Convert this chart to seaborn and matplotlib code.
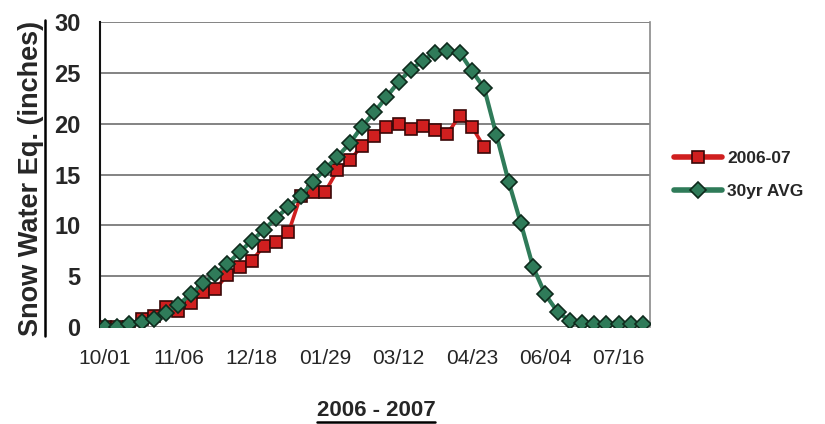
import numpy as np
import pandas as pd
import matplotlib
matplotlib.use("Agg")
import matplotlib.pyplot as plt
from matplotlib.lines import Line2D
import seaborn as sns

# ---- data ----
swe_2006_07 = [0, 0, 0, 0.8, 1.1, 2.0, 1.6, 2.4, 3.4, 3.7,
               5.1, 5.9, 6.5, 8.0, 8.4, 9.3, 12.9, 13.3, 13.3, 15.4,
               16.4, 17.8, 18.8, 19.7, 20.0, 19.5, 19.75, 19.4, 19.0, 20.8,
               19.7, 17.7]
swe_30yr_avg = [0, 0, 0.3, 0.5, 0.8, 1.4, 2.2, 3.2, 4.3, 5.2,
                6.2, 7.35, 8.5, 9.55, 10.75, 11.8, 12.9, 14.25, 15.55, 16.75,
                18.05, 19.7, 21.1, 22.6, 24.1, 25.3, 26.2, 27.0, 27.1, 27.0,
                25.2, 23.5, 18.9, 14.3, 10.2, 5.9, 3.2, 1.5, 0.6, 0.4,
                0.3, 0.3, 0.3, 0.3, 0.3]
tick_labels = ["10/01", "11/06", "12/18", "01/29", "03/12", "04/23", "06/04", "07/16"]
label_every = 6
y_ticks = [0, 5, 10, 15, 20, 25, 30]
series_names = ["2006-07", "30yr AVG"]

df_cur = pd.DataFrame({"period": np.arange(len(swe_2006_07)), "swe": swe_2006_07})
df_avg = pd.DataFrame({"period": np.arange(len(swe_30yr_avg)), "swe": swe_30yr_avg})

sns.set_theme(style="white")
FONT = ["Liberation Sans Narrow", "Liberation Sans", "DejaVu Sans"]
plt.rcParams["font.family"] = FONT

RED = "#d01f1f"
RED_EDGE = "#3a0808"
GREEN = "#2f7b59"
GREEN_EDGE = "#0e2a1c"

fig = plt.figure(figsize=(8.25, 4.24), dpi=100)
ax = fig.add_axes([100 / 825, (424 - 327) / 424, 550 / 825, 305 / 424])

sns.lineplot(data=df_cur, x="period", y="swe", ax=ax, color=RED, linewidth=2.6,
             marker="s", markersize=8.5, markerfacecolor=RED, markeredgecolor=RED_EDGE,
             markeredgewidth=1.2, zorder=3)
sns.lineplot(data=df_avg, x="period", y="swe", ax=ax, color=GREEN, linewidth=3.0,
             marker="D", markersize=8, markerfacecolor=GREEN, markeredgecolor=GREEN_EDGE,
             markeredgewidth=1.2, zorder=4)

ax.set_xlim(-0.41, 44.56)
ax.set_ylim(0, 30)
ax.set_yticks(y_ticks)
ax.set_yticklabels([str(v) for v in y_ticks], fontsize=17, fontweight="bold")
ax.set_xticks(np.arange(len(tick_labels)) * label_every)
ax.set_xticklabels(tick_labels, fontsize=15)
ax.tick_params(axis="x", length=0, pad=16)
ax.tick_params(axis="y", length=0, pad=14)
ax.yaxis.grid(True, color="#7a7a7a", linewidth=1.3)
ax.set_axisbelow(True)
ax.set_xlabel("")
ax.set_ylabel("")
for s in ["top", "bottom"]:
    ax.spines[s].set_visible(False)
ax.spines["left"].set_color("#111111")
ax.spines["left"].set_linewidth(1.5)
ax.spines["right"].set_color("#8a8a8a")
ax.spines["right"].set_linewidth(1.2)

# legend
handles = [
    Line2D([0], [0], color=RED, linewidth=4, marker="s", markersize=8.5,
           markerfacecolor=RED, markeredgecolor=RED_EDGE, markeredgewidth=1.2),
    Line2D([0], [0], color=GREEN, linewidth=4, marker="D", markersize=8,
           markerfacecolor=GREEN, markeredgecolor=GREEN_EDGE, markeredgewidth=1.2),
]
leg = fig.legend(handles, series_names, loc="upper left",
                 bbox_to_anchor=(658 / 825, 1 - 135 / 424), frameon=False,
                 prop={"family": FONT, "weight": "bold", "size": 12.5},
                 handlelength=2.8, handletextpad=0.3, labelspacing=1.05)

# axis titles (underlined)
ylab = fig.text(31 / 825, 1 - 178 / 424, "Snow Water Eq. (inches)", rotation=90,
                ha="center", va="center", fontsize=19.5, fontweight="bold")
xlab = fig.text(376 / 825, 1 - 410 / 424, "2006 - 2007", ha="center", va="center",
                fontsize=16, fontweight="bold")

fig.canvas.draw()
r = fig.canvas.get_renderer()
W, H = fig.get_size_inches() * fig.dpi
bb = xlab.get_window_extent(r)
fig.add_artist(Line2D([bb.x0 / W, bb.x1 / W], [(bb.y0 - 1) / H, (bb.y0 - 1) / H],
                      color="black", linewidth=1.8, transform=fig.transFigure))
bb = ylab.get_window_extent(r)
fig.add_artist(Line2D([(bb.x1 + 1) / W, (bb.x1 + 1) / W], [bb.y0 / H, bb.y1 / H],
                      color="black", linewidth=1.8, transform=fig.transFigure))

fig.savefig("out.png", dpi=100)
